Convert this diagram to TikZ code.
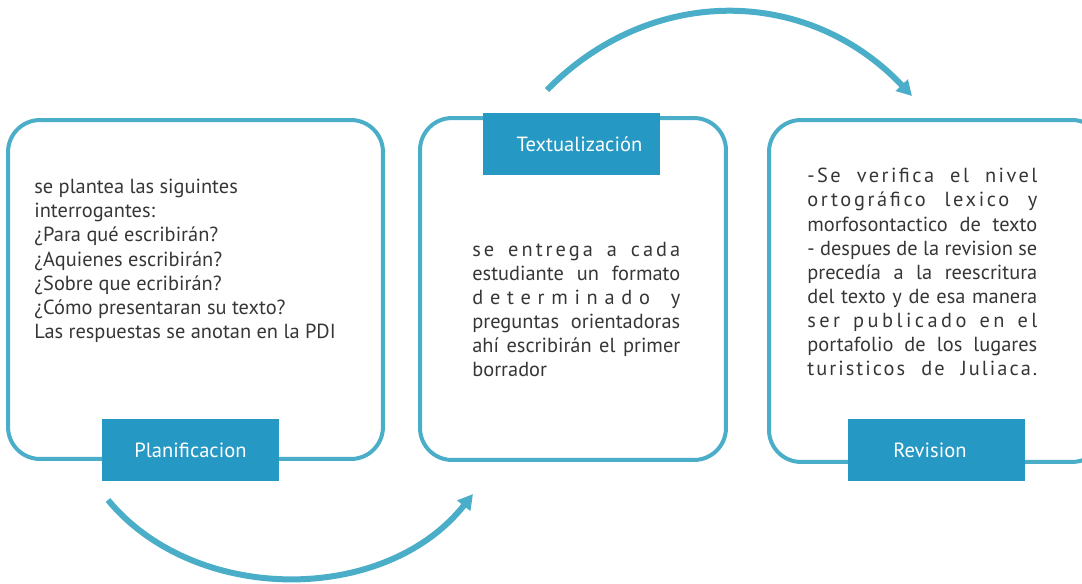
\documentclass[tikz,border=0pt]{standalone}
\usepackage{fontspec}
\setmainfont{PT Sans}
\usepackage{tikz}
\usetikzlibrary{arrows.meta}
\definecolor{linea}{HTML}{4AAEC8}
\definecolor{etiqueta}{HTML}{2698C4}
\definecolor{texto}{HTML}{363636}
\newcommand{\espacio}[2]{{\addfontfeature{LetterSpace=#1}#2}}
\begin{document}
\begin{tikzpicture}[x=0.02cm,y=-0.02cm,
  caja/.style={draw=linea, line width=0.08cm, rounded corners=0.64cm},
  etiq/.style={fill=etiqueta, text=white, minimum width=3.54cm, minimum height=1.24cm, inner sep=0pt, font=\fontsize{11.7}{13}\selectfont},
  cuerpo/.style={anchor=north west, inner sep=0pt, text=texto, font=\fontsize{11.6}{13.7}\selectfont},
  flecha/.style={draw=linea, line width=0.12cm, -{Triangle[length=0.3cm,width=0.32cm]}}]
\useasboundingbox (0,0) rectangle (1082,583);
% cajas
\node[caja, minimum width=7.5cm, minimum height=6.78cm] (plan) at (195.5,289.5) {};
\node[caja, minimum width=6.12cm, minimum height=6.84cm] (textu) at (573,289) {};
\node[caja, minimum width=6.7cm, minimum height=6.84cm, anchor=north west] (revi) at (767,118) {};
%
\node[etiq] (lplan) at (190.5,450) {Planificacion};
\node[etiq] (ltextu) at (571.5,144) {\raisebox{-0.08cm}{\hspace*{0.32cm}Textualización}};
\node[etiq] (lrevi) at (936.5,450) {Revision\hspace*{0.26cm}};
% textos
\node[cuerpo, align=left] (tplan) at (34,179) {se plantea las siguintes\\
interrogantes:\\
¿Para qué escribirán?\\
¿Aquienes escribirán?\\
¿Sobre que ecribirán?\\
¿Cómo presentaran su texto?\\
Las respuestas se anotan en la PDI};
\node[cuerpo, text width=4.16cm, align=justify] (ttextu) at (472,242) {\espacio{15}{se entrega a cada}\linebreak
estudiante un formato\linebreak
\espacio{33}{determinado y}\linebreak
preguntas orientadoras\linebreak
ahí escribirán el primer\linebreak
borrador};
\node[cuerpo, text width=4.6cm, align=justify, execute at begin node={\parfillskip=0pt}] (trevi) at (807,168) {\espacio{12}{-Se verifica el nivel}\linebreak
\espacio{13}{ortográfico lexico y}\linebreak
morfosontactico de texto\linebreak
- despues de la revision se\linebreak
precedía a la reescritura\linebreak
del texto y de esa manera\linebreak
\espacio{17}{ser publicado en el}\linebreak
portafolio de los lugares\linebreak
\espacio{10}{turisticos de Juliaca.}};
% flechas
\coordinate (a1) at (547,90);
\coordinate (a2) at (912,96);
\coordinate (b1) at (108,500);
\coordinate (b2) at (473,494);
\draw[flecha] (a1) .. controls (650,-15) and (807,-15) .. (a2);
\draw[flecha] (b1) .. controls (195,605) and (385,605) .. (b2);
\end{tikzpicture}
\end{document}
